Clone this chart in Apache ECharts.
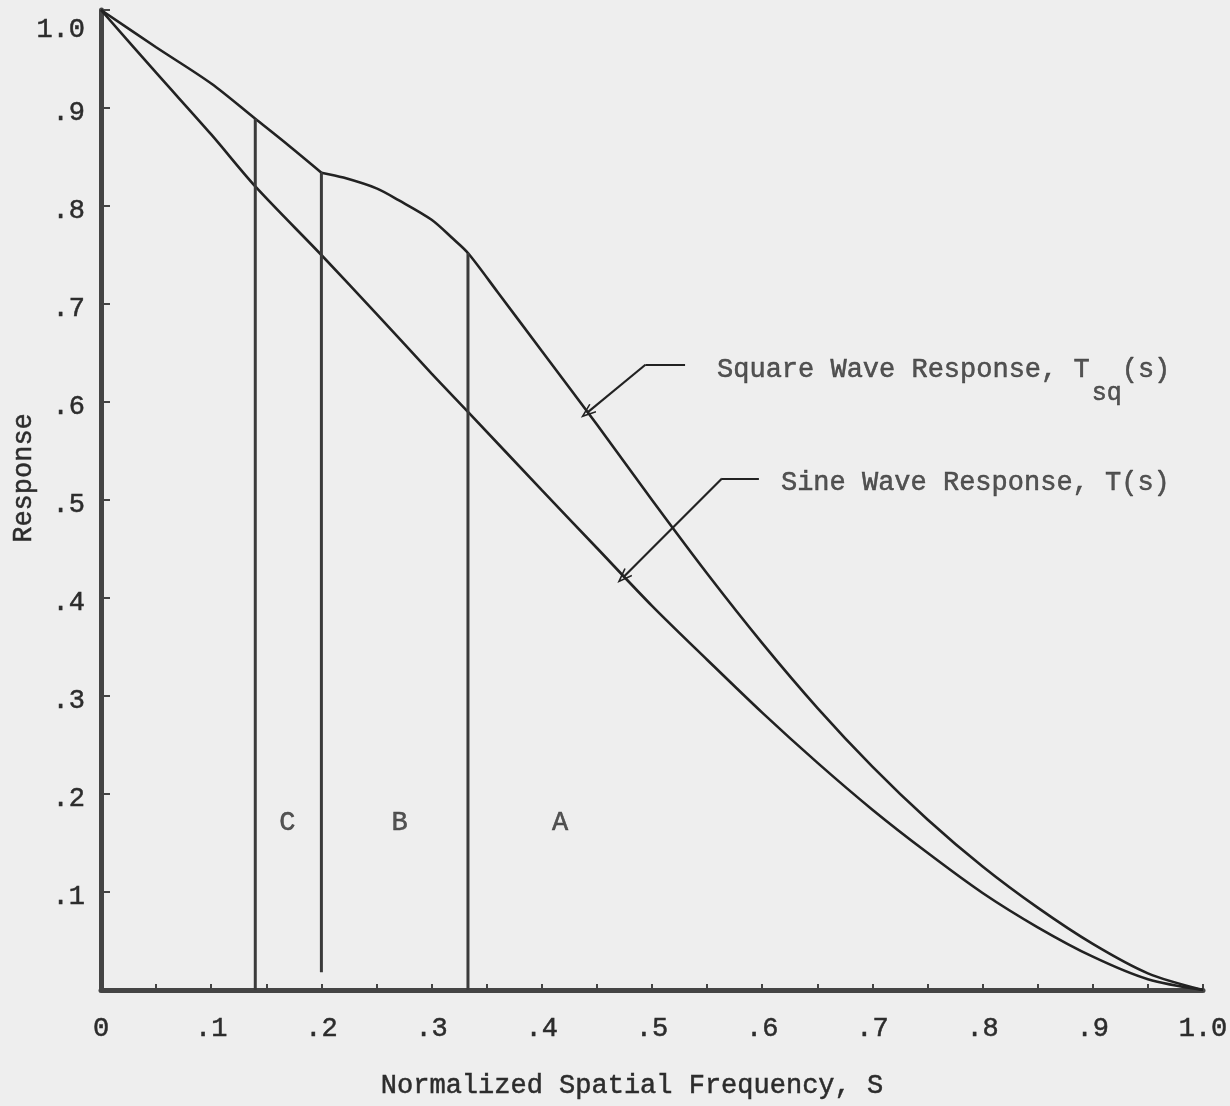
<!DOCTYPE html>
<html>
<head>
<meta charset="utf-8">
<script src="https://cdn.jsdelivr.net/npm/echarts@6/dist/echarts.min.js"></script>
<style>
  html, body { margin: 0; padding: 0; background: #eeeeee; }
  #chart { width: 1230px; height: 1106px; }
</style>
</head>
<body>
<div id="chart"></div>
<script>
// Sine wave response T(s)
const sineFreq = [0, 0.05, 0.1, 0.14, 0.2, 0.25, 0.3, 0.333, 0.4, 0.45, 0.5, 0.55, 0.6, 0.65, 0.7, 0.75, 0.8, 0.85, 0.9, 0.95, 1.0];
const sineResp = [1.0, 0.936, 0.873, 0.820, 0.750, 0.690, 0.629, 0.590, 0.510, 0.451, 0.392, 0.337, 0.283, 0.232, 0.184, 0.140, 0.099, 0.064, 0.034, 0.011, 0];

// Square wave response Tsq(s); the curve has a corner at s = 0.2
const squareFreq = [0, 0.05, 0.1, 0.14, 0.17, 0.2, 0.22, 0.25, 0.27, 0.3, 0.32, 0.333, 0.36, 0.4, 0.45, 0.5, 0.55, 0.6, 0.65, 0.7, 0.75, 0.8, 0.85, 0.9, 0.95, 1.0];
const squareResp = [1.0, 0.962, 0.925, 0.889, 0.862, 0.834, 0.829, 0.818, 0.806, 0.786, 0.766, 0.752, 0.712, 0.652, 0.577, 0.500, 0.425, 0.354, 0.288, 0.228, 0.174, 0.126, 0.084, 0.047, 0.017, 0];
const squareCorner = 0.2;

// Region boundaries (s = 1/7, 1/5, 1/3) and the regions they bound
const dividerFreq = [0.14, 0.2, 0.333];
const dividerLow = [0, 0.018, 0];
const dividerHigh = [0.889, 0.834, 0.752];
const regionNames = ['C', 'B', 'A'];
const regionFreq = [0.169, 0.271, 0.4165];
const regionResp = [0.171, 0.171, 0.171];

// Callout anchors: label start, leader elbow, arrow tip
const squareCallout = [[0.559, 0.633], [0.530, 0.638], [0.494, 0.638], [0.441, 0.589]];
const sineCallout = [[0.617, 0.518], [0.597, 0.522], [0.5635, 0.522], [0.4737, 0.421]];

// Tick labels
const xTickText = ['0', '.1', '.2', '.3', '.4', '.5', '.6', '.7', '.8', '.9', '1.0'];
const yTickText = ['', '.1', '.2', '.3', '.4', '.5', '.6', '.7', '.8', '.9', '1.0'];

const FONT = 'Liberation Mono';
const INK = '#2c2c2c';
const LINE = '#222222';
const FS = 27;
const TEXT = { fontFamily: FONT, fontSize: FS, color: INK, textBorderColor: INK, textBorderWidth: 0.5 };
const arrowHead = 'path://M5,0 L10,13 L8.8,13.6 L5,4 L1.2,13.6 L0,13 Z';

function tenth(v) {
  const k = Math.round(v * 10);
  return Math.abs(v * 10 - k) < 1e-6 ? k : -1;
}

function callout(points) {
  return [
    [{ coord: points[1], symbol: 'none' }, { coord: points[2], symbol: 'none' }],
    [{ coord: points[2], symbol: 'none' }, { coord: points[3], symbol: arrowHead, symbolSize: [11, 16] }]
  ];
}

const squarePoints = squareFreq.map((s, i) => [s, squareResp[i]]);
const cornerIdx = squareFreq.indexOf(squareCorner);

function curve(name, data) {
  return {
    type: 'line', name: name, data: data,
    smooth: 0.3, showSymbol: false,
    lineStyle: { color: LINE, width: 2.6 }
  };
}

const chart = echarts.init(document.getElementById('chart'), null, { renderer: 'canvas' });

chart.setOption({
  backgroundColor: '#eeeeee',
  animation: false,
  textStyle: { fontFamily: FONT, color: INK },
  grid: { left: 101, right: 27, top: 10, bottom: 116, containLabel: false, outerBoundsMode: 'none' },
  xAxis: {
    type: 'value', min: 0, max: 1, interval: 0.05,
    name: 'Normalized Spatial Frequency, S',
    nameLocation: 'middle', nameGap: 82,
    nameTextStyle: Object.assign({}, TEXT, { padding: [0, 40, 0, 0] }),
    axisLine: { show: true, lineStyle: { color: '#444444', width: 5 } },
    axisTick: { show: true, inside: true, length: 6, lineStyle: { color: '#444444', width: 2 } },
    axisLabel: Object.assign({}, TEXT, {
      margin: 25,
      formatter: v => { const k = tenth(v); return k >= 0 ? xTickText[k] : ''; }
    }),
    splitLine: { show: false }
  },
  yAxis: {
    type: 'value', min: 0, max: 1, interval: 0.1,
    name: 'Response',
    nameLocation: 'middle', nameGap: 64, nameMoveOverlap: false,
    nameTextStyle: Object.assign({}, TEXT, { padding: [0, 0, 0, 44] }),
    axisLine: { show: true, lineStyle: { color: '#444444', width: 5 } },
    axisTick: { show: true, inside: true, length: 9, lineStyle: { color: '#444444', width: 2 } },
    axisLabel: Object.assign({}, TEXT, {
      margin: 16, padding: [10, 0, 0, 0],
      formatter: v => {
        const k = tenth(v);
        if (k === 10) return '{top|' + yTickText[k] + '}';
        return k >= 0 ? yTickText[k] : '';
      },
      rich: { top: Object.assign({}, TEXT, { padding: [30, 0, 0, 0] }) }
    }),
    splitLine: { show: false }
  },
  series: [
    curve('Square Wave Response', squarePoints.slice(0, cornerIdx + 1)),
    curve('Square Wave Response', squarePoints.slice(cornerIdx)),
    curve('Sine Wave Response', sineFreq.map((s, i) => [s, sineResp[i]])),
    ...dividerFreq.map((s, i) => ({
      type: 'line', name: 'divider' + i,
      data: [[s, dividerLow[i]], [s, dividerHigh[i]]],
      showSymbol: false,
      lineStyle: { color: '#3a3a3a', width: 3 }
    })),
    {
      type: 'scatter', name: 'regions',
      data: regionFreq.map((s, i) => [s, regionResp[i], regionNames[i]]),
      symbolSize: 0,
      label: Object.assign({}, TEXT, {
        show: true, position: 'inside', formatter: p => p.data[2]
      })
    },
    {
      type: 'scatter', name: 'callouts',
      data: [
        { value: squareCallout[0], label: { formatter: '{m|Square Wave Response, T}{sub|sq}{m|(s)}' } },
        { value: sineCallout[0], label: { formatter: '{m|Sine Wave Response, T(s)}' } }
      ],
      symbolSize: 0,
      label: {
        show: true, position: 'right', distance: 0,
        rich: {
          m: TEXT,
          sub: Object.assign({}, TEXT, { fontSize: 25, padding: [48, 0, 0, 2] })
        }
      },
      markLine: {
        silent: true, symbol: 'none', animation: false,
        label: { show: false },
        lineStyle: { color: LINE, width: 2.2, type: 'solid' },
        data: [...callout(squareCallout), ...callout(sineCallout)]
      }
    }
  ]
});
</script>
</body>
</html>
